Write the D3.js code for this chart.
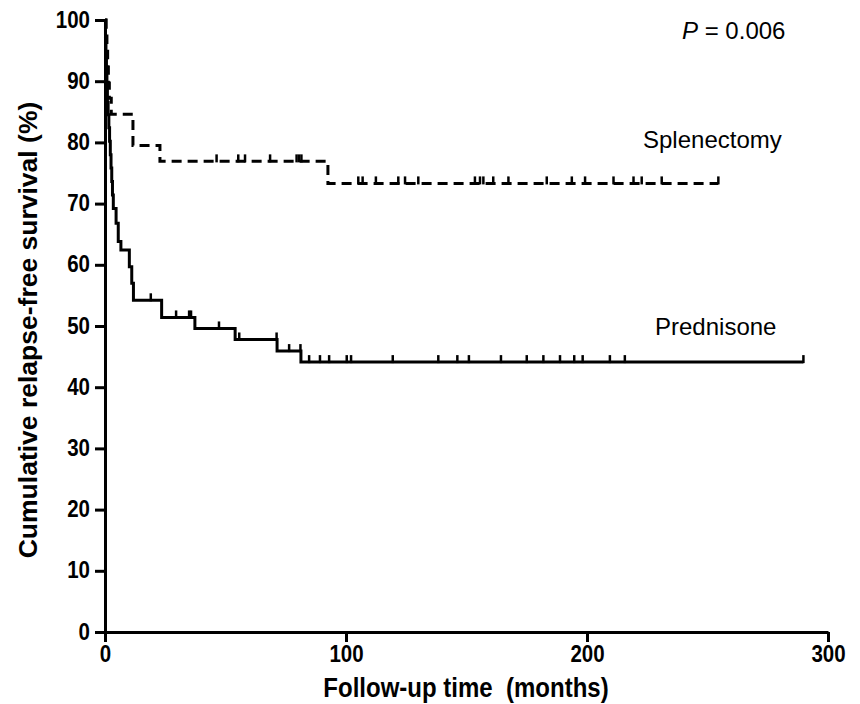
<!DOCTYPE html>
<meta charset="utf-8">
<style>
  body { margin: 0; background: #fff; }
  svg text { font-family: "Liberation Sans", Arial, sans-serif; fill: #000; }
  .axis path, .axis line { stroke: #000; stroke-width: 3; }
  .axis text { font-size: 20.5px; font-weight: bold; }
</style>
<svg width="860" height="704"></svg>
<script src="https://d3js.org/d3.v7.min.js"></script>
<script>

// prednisone: step times (months) and survival (%) after each step
var predTimes = [0, 0.2, 0.4, 0.6, 0.8, 1.0, 1.3, 1.6, 1.9, 2.2, 2.5, 2.8, 3.1, 3.45, 4.6, 5.5, 6.6, 10.1, 11.1, 11.8, 23.5, 37.3, 54, 71.4, 81.3];
var predSurv  = [100, 97.3, 94.6, 91.9, 89.2, 86.5, 84.5, 82.4, 80.2, 78.0, 75.8, 73.6, 71.4, 69.2, 66.8, 63.8, 62.4, 59.7, 57.0, 54.2, 51.4, 49.6, 47.8, 45.9, 44.1];
var predEnd = 289.8;
var predCensored = [19, 29.5, 34.9, 35.7, 47.3, 55.7, 71.2, 76.4, 81.1, 84.7, 89.2, 93, 100.3, 102.1, 119.4, 138.3, 146.2, 151, 164.3, 175, 181.9, 188.8, 194.7, 198.2, 209.5, 215.7, 289.8];

// splenectomy
var splTimes = [0, 0.5, 0.8, 1.1, 1.4, 1.8, 2.6, 11.6, 22.8, 92.5];
var splSurv  = [100, 97.4, 94.9, 92.3, 89.7, 87.2, 84.6, 79.5, 76.9, 73.3];
var splEnd = 254.5;
var splCensored = [46.3, 55.3, 58.1, 68.5, 79.5, 80.5, 81.5, 105.1, 106.9, 112.4, 121.7, 124.5, 130, 153.5, 155.6, 157, 161.1, 167.4, 183.3, 193.7, 199.2, 211, 219.3, 222.7, 231, 254.5];

var xTicks = [0, 100, 200, 300];
var yTicks = [0, 10, 20, 30, 40, 50, 60, 70, 80, 90, 100];

var svg = d3.select("svg");

var x = d3.scaleLinear().domain([0, 300]).range([105, 828]);
var y = d3.scaleLinear().domain([0, 100]).range([632, 20]);

// glyphs in the original are a little taller than they are wide
var stretch = "scale(1,1.15)";

svg.append("g")
    .attr("class", "axis")
    .attr("transform", "translate(0,632)")
    .call(d3.axisBottom(x).tickValues(xTicks).tickSize(10).tickSizeOuter(0).tickPadding(4))
    .call(function(g) {
      g.selectAll("text").attr("y", 11).attr("dy", "0.75em").attr("transform", stretch);
    });

svg.append("g")
    .attr("class", "axis")
    .attr("transform", "translate(105,0)")
    .call(d3.axisLeft(y).tickValues(yTicks).tickSize(10).tickSizeOuter(0).tickPadding(5))
    .call(function(g) {
      g.selectAll("text").attr("dy", "0.3em").attr("transform", stretch);
    });

function points(times, surv, end) {
  var pts = times.map(function(t, i) { return [t, surv[i]]; });
  pts.push([end, surv[surv.length - 1]]);
  return pts;
}

function survAt(times, surv, t) {
  var i = d3.bisectRight(times, t) - 1;
  return surv[Math.max(i, 0)];
}

var line = d3.line()
    .x(function(d) { return x(d[0]); })
    .y(function(d) { return y(d[1]); })
    .curve(d3.curveStepAfter);

function drawCurve(times, surv, end, censored, dash) {
  svg.append("path")
      .datum(points(times, surv, end))
      .attr("fill", "none")
      .attr("stroke", "#000")
      .attr("stroke-width", 3)
      .attr("stroke-dasharray", dash)
      .attr("d", line);

  svg.append("g").selectAll("line")
      .data(censored)
    .enter().append("line")
      .attr("x1", function(d) { return x(d); })
      .attr("x2", function(d) { return x(d); })
      .attr("y1", function(d) { return y(survAt(times, surv, d)) + 1; })
      .attr("y2", function(d) { return y(survAt(times, surv, d)) - 7; })
      .attr("stroke", "#000")
      .attr("stroke-width", 2.5);
}

drawCurve(predTimes, predSurv, predEnd, predCensored, null);
drawCurve(splTimes, splSurv, splEnd, splCensored, "10,6");

// labels
var p = svg.append("text")
    .attr("x", 682)
    .attr("y", 39)
    .style("font-size", "24px");
p.append("tspan").style("font-style", "italic").text("P");
p.append("tspan").text(" = 0.006");

svg.append("text")
    .attr("x", 643)
    .attr("y", 148)
    .style("font-size", "24px")
    .text("Splenectomy");

svg.append("text")
    .attr("x", 655)
    .attr("y", 335)
    .style("font-size", "24px")
    .text("Prednisone");

svg.append("text")
    .attr("transform", "translate(466,697) " + stretch)
    .attr("text-anchor", "middle")
    .style("font-size", "24px")
    .style("font-weight", "bold")
    .style("white-space", "pre")
    .text("Follow-up time  (months)");

svg.append("text")
    .attr("transform", "translate(37,330) rotate(-90)")
    .attr("text-anchor", "middle")
    .style("font-size", "26.5px")
    .style("font-weight", "bold")
    .text("Cumulative relapse-free survival (%)");

</script>
